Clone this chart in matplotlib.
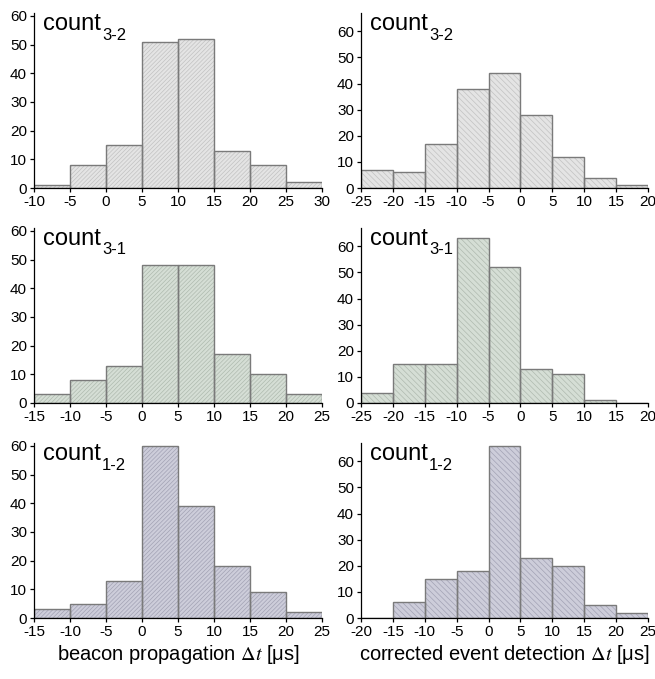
import numpy as np
import matplotlib.pyplot as plt

plt.rcParams['font.family'] = ['Liberation Sans', 'DejaVu Sans']
plt.rcParams['mathtext.fontset'] = 'stix'
plt.rcParams['axes.unicode_minus'] = False
plt.rcParams['hatch.linewidth'] = 0.5

# histogram data, bin width 5 us
tl_edges = np.arange(-10, 31, 5)
tl_counts = [1, 8, 15, 51, 52, 13, 8, 2]
tr_edges = np.arange(-25, 21, 5)
tr_counts = [7, 6, 17, 38, 44, 28, 12, 4, 1]
ml_edges = np.arange(-15, 26, 5)
ml_counts = [3, 8, 13, 48, 48, 17, 10, 3]
mr_edges = np.arange(-25, 21, 5)
mr_counts = [4, 15, 15, 63, 52, 13, 11, 1, 0]
bl_edges = np.arange(-15, 26, 5)
bl_counts = [3, 5, 13, 60, 39, 18, 9, 2]
br_edges = np.arange(-20, 26, 5)
br_counts = [0, 6, 15, 18, 66, 23, 20, 5, 2]

labels = ['3-2', '3-1', '1-2']
fills = ['#e4e4e4', '#d5ded5', '#cdcdda']
hatch_cols = ['#c2c2c2', '#afbaaf', '#a2a2b4']

fig = plt.figure(figsize=(6.55, 6.79), dpi=100)

W, H = 655.0, 679.0
left_x = (34, 322)
right_x = (361, 648)
zero_y = [188, 403, 618]
ax_h = 175

panels = [
    (tl_edges, tl_counts, 0, 0), (tr_edges, tr_counts, 0, 1),
    (ml_edges, ml_counts, 1, 0), (mr_edges, mr_counts, 1, 1),
    (bl_edges, bl_counts, 2, 0), (br_edges, br_counts, 2, 1),
]

for edges, counts, row, col in panels:
    xs = left_x if col == 0 else right_x
    ax = fig.add_axes([xs[0] / W, (H - zero_y[row]) / H, (xs[1] - xs[0]) / W, ax_h / H])
    hatch = '////////' if col == 0 else '\\\\\\\\\\\\'
    ax.bar(edges[:-1], counts, width=5, align='edge', color=fills[row],
           edgecolor=hatch_cols[row], hatch=hatch, linewidth=0)
    ax.bar(edges[:-1], counts, width=5, align='edge', fill=False,
           edgecolor='#7a7a7a', linewidth=1.0)
    ax.set_xlim(edges[0], edges[-1])
    ax.set_ylim(0, 61 if col == 0 else 67)
    ax.set_xticks(edges)
    ax.set_yticks(np.arange(0, 61, 10))
    for s in ['top', 'right']:
        ax.spines[s].set_visible(False)
    for s in ['left', 'bottom']:
        ax.spines[s].set_linewidth(0.9)
    ax.tick_params(labelsize=11, length=3, width=0.9, pad=2)
    t = ax.text(0.03, 1.0, 'count', transform=ax.transAxes, ha='left', va='top', fontsize=17)
    ax.annotate(labels[row], xy=(1, 0), xycoords=t, xytext=(1, 0), textcoords='offset points',
                ha='left', va='center', fontsize=12)
    if row == 2:
        txt = 'beacon propagation' if col == 0 else 'corrected event detection'
        ax.set_xlabel(txt + r' $\Delta t$ [μs]', fontsize=14.5, labelpad=3)

fig.savefig('out.png', dpi=100)
